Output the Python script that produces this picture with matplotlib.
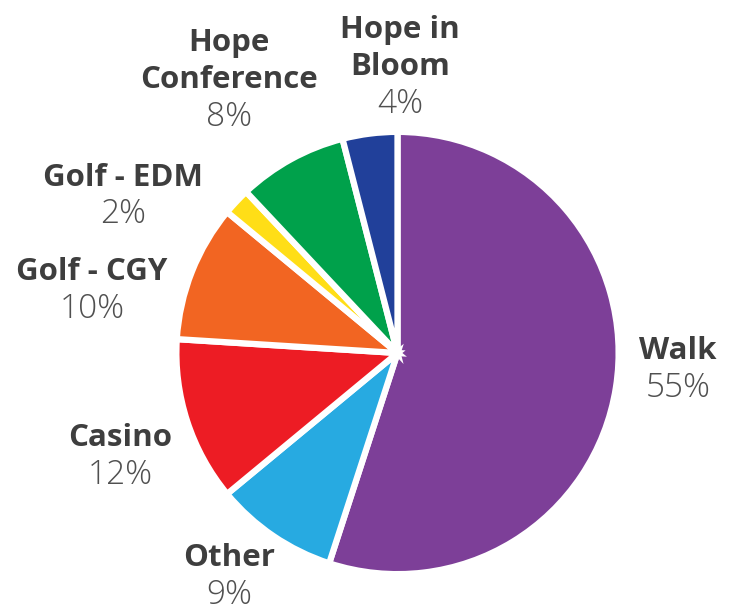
import matplotlib
matplotlib.use("Agg")
import matplotlib.pyplot as plt
import numpy as np

categories = ["Walk", "Other", "Casino", "Golf - CGY", "Golf - EDM", "Hope\nConference", "Hope in\nBloom"]
values = [55, 9, 12, 10, 2, 8, 4]
pct_labels = ["55%", "9%", "12%", "10%", "2%", "8%", "4%"]
colors = ["#7D3F98", "#27AAE1", "#ED1C24", "#F26522", "#FFDE17", "#00A14B", "#21409A"]

# layout: label block centres (data units, pie radius = 1)
label_pos = [(1.287, -0.067), (-0.773, -1.018), (-1.273, -0.466), (-1.401, 0.294),
             (-1.259, 0.729), (-0.773, 1.261), (0.011, 1.321)]

W, H, DPI = 733, 613, 100
fig = plt.figure(figsize=(W / DPI, H / DPI), dpi=DPI)
ax = fig.add_axes([0, 0, 1, 1])
R = 218.0
cx, cy = 397.5, 613 - 353

lw = 4.5
ax.pie(values, colors=colors, startangle=90, counterclock=False, radius=1.0 + lw / 72 * DPI / 2 / R,
       wedgeprops=dict(edgecolor="white", linewidth=lw), center=(0, 0), frame=True)
ax.set_xlim(-cx / R, (W - cx) / R)
ax.set_ylim(-cy / R, (H - cy) / R)
ax.set_aspect("equal")
ax.axis("off")

fs = 22.5
line_h = 37 / R
for cat, pct, (x, y) in zip(categories, pct_labels, label_pos):
    lines = cat.split("\n")
    total = len(lines) + 1
    top = y + (total - 1) * line_h / 2 - 2 / R
    for i, ln in enumerate(lines):
        ax.text(x, top - i * line_h, ln, ha="center", va="center", fontsize=fs,
                fontweight="bold", color="#3E3E3E", family="Open Sans")
    ax.text(x, top - len(lines) * line_h, pct, ha="center", va="center", fontsize=24,
            fontweight="light", color="#505050", family="Open Sans")

fig.savefig("out.png", dpi=DPI)
